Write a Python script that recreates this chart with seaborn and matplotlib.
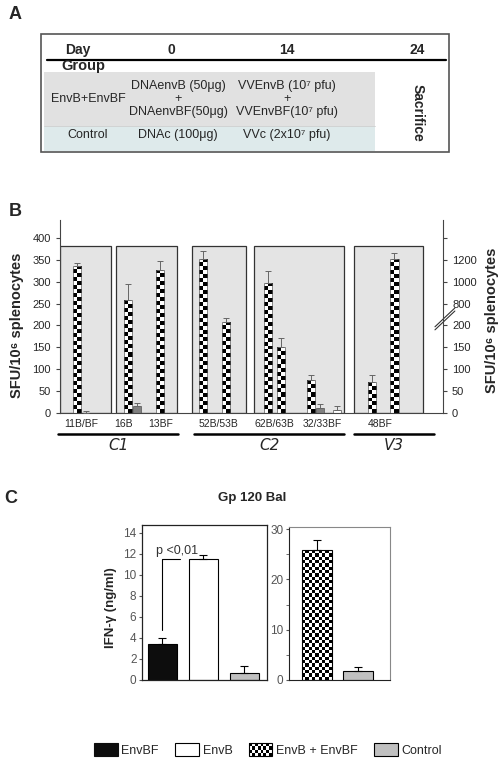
import numpy as np
import pandas as pd
import matplotlib
matplotlib.use("Agg")
import matplotlib.pyplot as plt
from matplotlib.patches import Rectangle, Patch
from matplotlib.legend_handler import HandlerBase
import matplotlib.transforms as mtrans
import seaborn as sns

sns.set_style("ticks")
plt.rcParams["font.family"] = ["Liberation Sans", "DejaVu Sans"]

# ---------------- data ----------------
# panel A : immunisation schedule
days = ["0", "14", "24"]
groups = ["EnvB+EnvBF", "Control"]
prime = ["DNAenvB (50μg)\n+\nDNAenvBF(50μg)", "DNAc (100μg)"]
boost = ["VVEnvB (10⁷ pfu)\n+\nVVEnvBF(10⁷ pfu)", "VVc (2x10⁷ pfu)"]

# panel B : ELISPOT per peptide pool
peptides = ["11B/BF", "16B", "13BF", "52B/53B", "62B/63B", "32/33BF", "48BF"]
regions = ["C1", "C2", "V3"]
bar_kind = ["EnvB + EnvBF", "EnvB", "EnvB + EnvBF", "Control", "EnvB + EnvBF",
            "EnvB + EnvBF", "EnvB + EnvBF", "EnvB + EnvBF", "EnvB + EnvBF",
            "EnvB + EnvBF", "Control", "EnvB", "EnvB + EnvBF", "EnvB + EnvBF"]
sfu = [336, 1, 258, 15, 327, 352, 208, 298, 150, 75, 12, 6, 70, 1210]
sfu_top = [342, 4, 295, 22, 347, 370, 217, 325, 172, 87, 20, 17, 87, 1260]
on_right_axis = [False] * 12 + [True, True]
right_ticks = [0, 50, 100, 150, 200, 800, 1000, 1200]

# panel C : IFN-gamma, Gp120 Bal
groups_c1 = ["EnvBF", "EnvB", "Control"]
ifn_c1 = [3.4, 11.5, 0.7]
ifn_c1_top = [4.0, 11.9, 1.3]
groups_c2 = ["EnvB + EnvBF", "Control"]
ifn_c2 = [25.8, 1.7]
ifn_c2_top = [27.8, 2.5]

colors = {"EnvBF": "#0d0d0d", "EnvB": "white", "EnvB + EnvBF": "white",
          "Control": "#c0c0c0"}
colors_b = dict(colors, Control="#808080")

# layout of panel B (x in bar-width units)
bar_pos = [2, 3, 8, 9, 11.7, 16.8, 19.5, 24.4, 26, 29.5, 30.5, 32.5, 36.7, 39.3]
label_pos = [2.5, 7.5, 11.8, 18.6, 25.2, 30.8, 37.6]
box_spans = [(0, 6.0), (6.6, 13.8), (15.5, 21.8), (22.8, 33.4), (34.5, 42.7)]
region_spans = [(-0.2, 13.9), (15.8, 33.4), (34.5, 43.9)]

W, H = 499, 765


def rect(l, t, r, b):
    return [l / W, 1 - b / H, (r - l) / W, (b - t) / H]


def to_left(v):
    # right axis is broken: 0-200 linear, 800-1200 compressed
    return v if v <= 200 else 250 + (v - 800) / 4


def add_checker(ax, patch, cell_px):
    x0, y0 = patch.get_x(), patch.get_y()
    w, h = patch.get_width(), patch.get_height()
    (px0, py0), (px1, py1) = ax.transData.transform([(x0, y0), (x0 + w, y0 + h)])
    nc = max(1, round(abs(px1 - px0) / cell_px))
    nr = max(1, round(abs(py1 - py0) / cell_px))
    grid = np.add.outer(np.arange(nr), np.arange(nc)) % 2
    im = ax.imshow(grid, cmap="gray_r", vmin=0, vmax=1, extent=(x0, x0 + w, y0, y0 + h),
                   aspect="auto", interpolation="nearest", origin="lower",
                   zorder=patch.get_zorder() + 0.1)
    im.set_clip_path(patch)
    patch.set_facecolor("none")
    patch.set_zorder(patch.get_zorder() + 0.2)


fig = plt.figure(figsize=(W / 100, H / 100), dpi=100)

# overlay for panel A and panel letters
ov = fig.add_axes([0, 0, 1, 1], zorder=-1)
ov.set_xlim(0, W)
ov.set_ylim(H, 0)
ov.axis("off")

ov.add_patch(Rectangle((41, 34), 408, 118, fill=False, ec="#555555", lw=1.2))
ov.add_patch(Rectangle((44, 72), 331, 54, fc="#e1e1e1", ec="none"))
ov.add_patch(Rectangle((44, 126), 331, 25, fc="#deeaeb", ec="none"))
ov.plot([44, 375], [126, 126], color="#cfcfcf", lw=0.6)
ov.plot([47, 446], [60, 60], color="black", lw=1.6)
ov.text(78, 50, "Day", ha="center", va="center", fontsize=10, fontweight="bold")
ov.text(83, 66, "Group", ha="center", va="center", fontsize=10.5, fontweight="bold")
for d, x in zip(days, [171, 287, 417]):
    ov.text(x, 50, d, ha="center", va="center", fontsize=10, fontweight="bold")
for g, p, b, y in zip(groups, prime, boost, [99, 135]):
    ov.text(88, y, g, ha="center", va="center", fontsize=9)
    ov.text(178, y, p, ha="center", va="center", fontsize=9, linespacing=1.15)
    ov.text(287, y, b, ha="center", va="center", fontsize=9, linespacing=1.15)
ov.text(418, 113, "Sacrifice", ha="center", va="center", rotation=-90,
        fontsize=10, fontweight="bold")

for letter, x, y in [("A", 15, 14), ("B", 15, 211), ("C", 11, 498)]:
    ov.text(x, y, letter, ha="center", va="center", fontsize=13, fontweight="bold")
ov.text(252, 498, "Gp 120 Bal", ha="center", va="center", fontsize=9.5, fontweight="bold")

# ---------------- panel B ----------------
axb = fig.add_axes(rect(60, 220, 443, 413))
axb.set_facecolor("none")
dfb = pd.DataFrame({
    "pos": bar_pos,
    "val": [to_left(v) if r else v for v, r in zip(sfu, on_right_axis)],
    "top": [to_left(v) if r else v for v, r in zip(sfu_top, on_right_axis)],
    "kind": bar_kind,
})
sns.barplot(data=dfb, x="pos", y="val", hue="kind", native_scale=True, dodge=False,
            width=0.95, palette=colors_b, saturation=1, edgecolor="#555555",
            linewidth=0.5, errorbar=None, legend=False, ax=axb)
bar_patches = list(axb.patches)
axb.set_xlim(0, 45)
axb.set_ylim(0, 441)
for p in bar_patches:
    cx = p.get_x() + p.get_width() / 2
    i = int(np.argmin(np.abs(dfb["pos"].values - cx)))
    if dfb["kind"][i] == "EnvB + EnvBF":
        add_checker(axb, p, 4.0)
axb.errorbar(dfb["pos"], dfb["val"], yerr=[np.zeros(len(dfb)), dfb["top"] - dfb["val"]],
             fmt="none", ecolor="#666666", elinewidth=0.7, capsize=2, capthick=0.7, zorder=5)
for a, b in box_spans:
    axb.add_patch(Rectangle((a, 0), b - a, 382, fc="#e4e4e4", ec="#333333", lw=0.9, zorder=0.5))

axb.set_yticks(range(0, 401, 50))
axb.set_xticks(label_pos, peptides)
axb.tick_params(axis="x", length=0, pad=4, labelsize=7.5)
axb.tick_params(axis="y", length=3, labelsize=8, color="#444444")
axb.set_xlabel("")
axb.set_ylabel("SFU/10⁶ splenocytes", fontsize=10.5, fontweight="bold")
axb.yaxis.set_label_coords(-0.093, 0.456)
axb.spines["top"].set_visible(False)
axb.spines["right"].set_visible(False)
for s in ["left", "bottom"]:
    axb.spines[s].set_color("#444444")

trans = mtrans.blended_transform_factory(axb.transData, axb.transAxes)
for (a, b), name in zip(region_spans, regions):
    axb.plot([a, b], [-0.109, -0.109], color="black", lw=1.8, transform=trans, clip_on=False)
    axb.text((a + b) / 2, -0.17, name, transform=trans, ha="center", va="center",
             fontsize=11, style="italic", family=["DejaVu Sans"])

axr = axb.twinx()
axr.set_ylim(axb.get_ylim())
axr.set_yticks([to_left(v) for v in right_ticks] + [400],
               [str(v) for v in right_ticks] + [""])
axr.tick_params(axis="y", length=3, labelsize=8, color="#444444")
axr.set_ylabel("SFU/10⁶ splenocytes", fontsize=10.5, fontweight="bold", rotation=90)
axr.yaxis.set_label_coords(1.109, 0.48)
for s in ["top", "left", "bottom"]:
    axr.spines[s].set_visible(False)
axr.spines["right"].set_color("#444444")
tr = mtrans.blended_transform_factory(axr.transAxes, axr.transData)
for dy in [0, -7]:
    axr.plot([0.979, 1.031], [197 + dy, 240 + dy], color="#333333", lw=0.8,
             transform=tr, clip_on=False)

# ---------------- panel C ----------------
axc1 = fig.add_axes(rect(142, 525, 267, 680))
sns.barplot(x=groups_c1, y=ifn_c1, hue=groups_c1, palette=colors, saturation=1,
            width=0.73, edgecolor="black", linewidth=0.8, errorbar=None,
            legend=False, ax=axc1)
axc1.errorbar(range(3), ifn_c1, yerr=[np.zeros(3), np.subtract(ifn_c1_top, ifn_c1)],
              fmt="none", ecolor="black", elinewidth=0.8, capsize=3, capthick=0.8, zorder=5)
axc1.set_xlim(-0.5, 2.55)
axc1.set_ylim(0, 14.76)
axc1.set_yticks(range(0, 15, 2))
axc1.set_xticks([])
axc1.tick_params(axis="y", length=2.5, pad=1.5, labelsize=8.5, labelcolor="#555555",
                 color="#555555")
axc1.set_ylabel("IFN-γ (ng/ml)", fontsize=9.5, fontweight="bold")
axc1.yaxis.set_label_coords(-0.2, 0.47)
for s in axc1.spines.values():
    s.set_color("#222222")
    s.set_linewidth(0.9)
# significance bracket
axc1.plot([0, 0, 0.43], [ifn_c1_top[0] + 0.8, ifn_c1[1], ifn_c1[1]], color="black", lw=0.8)
axc1.text(0.35, ifn_c1[1] + 0.8, "p <0,01", ha="center", va="center", fontsize=9,
          color="#333333")

axc2 = fig.add_axes(rect(289, 527, 390, 680))
sns.barplot(x=groups_c2, y=ifn_c2, hue=groups_c2, palette=colors, saturation=1,
            width=0.74, edgecolor="black", linewidth=0.8, errorbar=None,
            legend=False, ax=axc2)
axc2.set_xlim(-0.7, 1.8)
axc2.set_ylim(0, 30.4)
for p in list(axc2.patches):
    if p.get_x() < 0.5:
        add_checker(axc2, p, 3.3)
axc2.errorbar(range(2), ifn_c2, yerr=[np.zeros(2), np.subtract(ifn_c2_top, ifn_c2)],
              fmt="none", ecolor="black", elinewidth=0.8, capsize=3, capthick=0.8, zorder=5)
axc2.set_yticks([0, 10, 20, 30])
axc2.set_yticks([5, 15, 25], minor=True)
axc2.set_xticks([])
axc2.tick_params(axis="y", which="major", length=2.5, pad=1.5, labelsize=8.5,
                 labelcolor="#555555", color="#555555")
axc2.tick_params(axis="y", which="minor", length=2, color="#555555")
for s in ["top", "right"]:
    axc2.spines[s].set_color("#888888")
for s in ["left", "bottom"]:
    axc2.spines[s].set_color("#222222")


# ---------------- legend ----------------
class CheckerHandler(HandlerBase):
    def create_artists(self, legend, orig_handle, xdescent, ydescent, width, height,
                       fontsize, trans):
        arts = [Rectangle((-xdescent, -ydescent), width, height, fc="white", ec="black",
                          lw=0.8, transform=trans)]
        nc, nr = 8, 4
        cw, ch = width / nc, height / nr
        for i in range(nr):
            for j in range(nc):
                if (i + j) % 2:
                    arts.append(Rectangle((-xdescent + j * cw, -ydescent + i * ch), cw, ch,
                                          fc="black", ec="none", transform=trans))
        return arts


legend_names = ["EnvBF", "EnvB", "EnvB + EnvBF", "Control"]
handles = [Patch(fc=colors[n], ec="black" if n != "EnvBF" else colors[n], lw=0.8, label=n)
           for n in legend_names]
fig.legend(handles=handles, loc="center", bbox_to_anchor=(0.537, 0.0196), ncol=4,
           frameon=False, fontsize=9, handlelength=1.9, handleheight=1.2,
           handletextpad=0.3, columnspacing=1.3,
           handler_map={handles[2]: CheckerHandler()})

fig.savefig("out.png", dpi=100)
